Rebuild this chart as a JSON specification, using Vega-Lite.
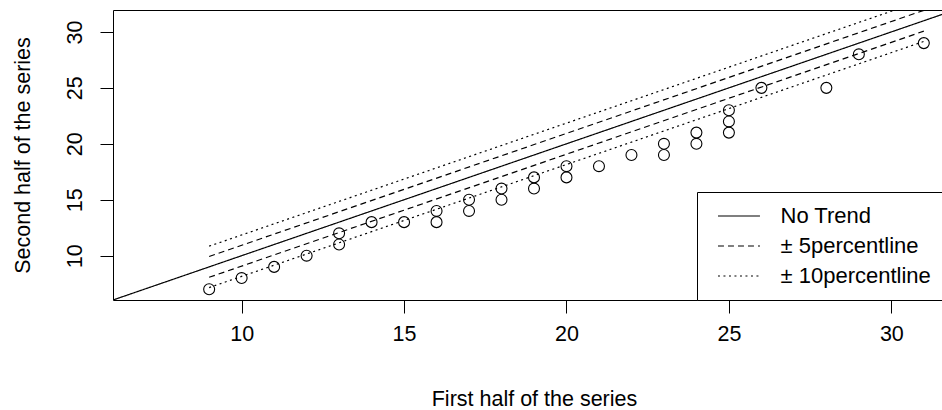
{
  "$schema": "https://vega.github.io/schema/vega-lite/v6.json",
  "width": 842,
  "height": 290,
  "autosize": {"type": "none"},
  "padding": {"left": 113, "top": 10, "right": -13, "bottom": 110},
  "background": "white",
  "datasets": {
    "points": [
      {"x": 9, "y": 7}, {"x": 10, "y": 8}, {"x": 11, "y": 9}, {"x": 12, "y": 10},
      {"x": 13, "y": 12}, {"x": 13, "y": 11}, {"x": 14, "y": 13}, {"x": 15, "y": 13},
      {"x": 16, "y": 14}, {"x": 16, "y": 13}, {"x": 17, "y": 15}, {"x": 17, "y": 14},
      {"x": 18, "y": 16}, {"x": 18, "y": 15}, {"x": 19, "y": 17}, {"x": 19, "y": 16},
      {"x": 20, "y": 18}, {"x": 20, "y": 17}, {"x": 21, "y": 18}, {"x": 22, "y": 19},
      {"x": 23, "y": 20}, {"x": 23, "y": 19}, {"x": 24, "y": 21}, {"x": 24, "y": 20},
      {"x": 25, "y": 23}, {"x": 25, "y": 22}, {"x": 25, "y": 21}, {"x": 26, "y": 25},
      {"x": 28, "y": 25}, {"x": 29, "y": 28}, {"x": 31, "y": 29}
    ],
    "lines": [
      {"line": "trend", "type": "No Trend", "x": 6, "y": 6},
      {"line": "trend", "type": "No Trend", "x": 32, "y": 32},
      {"line": "up5", "type": "± 5percentline", "x": 9, "y": 9.93},
      {"line": "up5", "type": "± 5percentline", "x": 31, "y": 31.93},
      {"line": "lo5", "type": "± 5percentline", "x": 9, "y": 8.07},
      {"line": "lo5", "type": "± 5percentline", "x": 31, "y": 30.07},
      {"line": "up10", "type": "± 10percentline", "x": 9, "y": 10.85},
      {"line": "up10", "type": "± 10percentline", "x": 31, "y": 32.85},
      {"line": "lo10", "type": "± 10percentline", "x": 9, "y": 7.15},
      {"line": "lo10", "type": "± 10percentline", "x": 31, "y": 29.15}
    ]
  },
  "layer": [
    {
      "data": {"name": "lines"},
      "mark": {"type": "line", "clip": true, "color": "black", "strokeWidth": 1.2},
      "encoding": {
        "x": {
          "field": "x", "type": "quantitative",
          "scale": {"domain": [6.04, 31.96], "nice": false, "zero": false},
          "axis": {
            "title": "First half of the series",
            "values": [10, 15, 20, 25, 30],
            "labelBaseline": "alphabetic",
            "labelPadding": 27,
            "titleX": 421,
            "titleY": 105.5,
            "titleBaseline": "alphabetic",
            "titleAlign": "center"
          }
        },
        "y": {
          "field": "y", "type": "quantitative",
          "scale": {"domain": [6.04, 31.96], "nice": false, "zero": false},
          "axis": {
            "title": "Second half of the series",
            "values": [10, 15, 20, 25, 30],
            "labelAngle": -90,
            "labelAlign": "center",
            "labelBaseline": "alphabetic",
            "labelPadding": 19,
            "titleAngle": -90,
            "titleX": -83.5,
            "titleY": 145,
            "titleBaseline": "alphabetic",
            "titleAlign": "center"
          }
        },
        "strokeDash": {
          "field": "type", "type": "nominal",
          "scale": {
            "domain": ["No Trend", "± 5percentline", "± 10percentline"],
            "range": [[1, 0], [6, 4], [2, 3.5]]
          },
          "legend": {
            "title": null,
            "orient": "none",
            "legendX": 584,
            "legendY": 182,
            "direction": "vertical",
            "strokeColor": "black",
            "fillColor": "white",
            "padding": 12.5,
            "symbolType": "M-0.29,0H3.71",
            "symbolSize": 441,
            "symbolStrokeColor": "black",
            "symbolStrokeWidth": 1.2,
            "symbolFillColor": "transparent",
            "labelOffset": 48,
            "rowPadding": 7,
            "labelFontSize": 22,
            "labelFont": "Liberation Sans",
            "labelColor": "black",
            "labelLimit": 400
          }
        },
        "detail": {"field": "line"}
      }
    },
    {
      "data": {"name": "points"},
      "mark": {"type": "point", "shape": "circle", "filled": false, "color": "black", "size": 120, "strokeWidth": 1.1, "opacity": 1},
      "encoding": {
        "x": {"field": "x", "type": "quantitative"},
        "y": {"field": "y", "type": "quantitative"}
      }
    }
  ],
  "config": {
    "view": {"stroke": "black", "strokeWidth": 1},
    "axis": {
      "domain": false,
      "grid": false,
      "ticks": true,
      "tickColor": "black",
      "tickSize": 13,
      "tickWidth": 1,
      "labelFont": "Liberation Sans",
      "labelFontSize": 21.5,
      "labelColor": "black",
      "titleFont": "Liberation Sans",
      "titleFontSize": 21.5,
      "titleFontWeight": "normal",
      "titleColor": "black",
      "labelFlush": false,
      "labelOverlap": false
    }
  }
}
